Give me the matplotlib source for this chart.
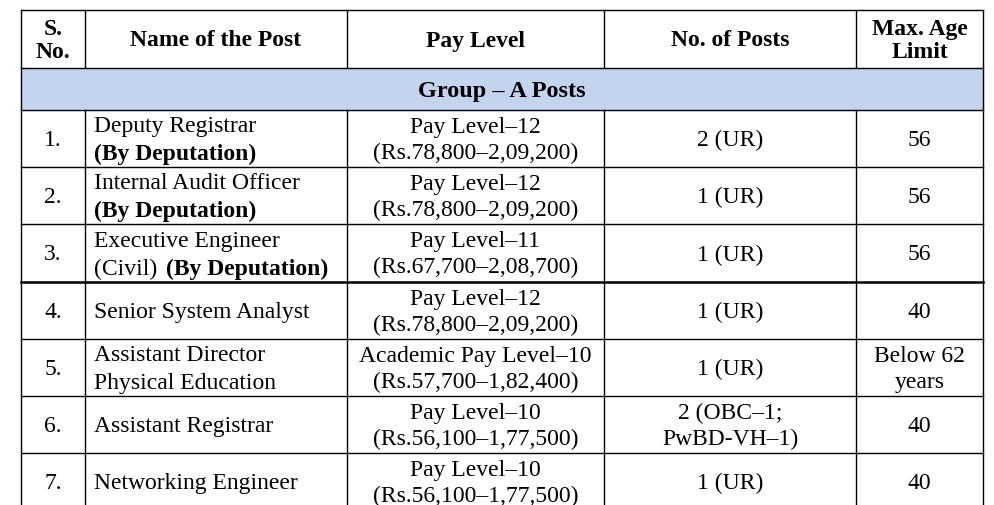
import matplotlib
matplotlib.use("Agg")
from matplotlib import pyplot as plt

plt.rcParams['font.family'] = ['Liberation Serif', 'DejaVu Serif']

headers = ["S.\nNo.", "Name of the Post", "Pay Level", "No. of Posts", "Max. Age\nLimit"]
group_title = "Group \u2013 A Posts"
serials = ["1.", "2.", "3.", "4.", "5.", "6.", "7."]
names = [
    [("Deputy Registrar", False), ("(By Deputation)", True)],
    [("Internal Audit Officer", False), ("(By Deputation)", True)],
    [("Executive Engineer", False), ("(Civil)", False, "(By Deputation)")],
    [("Senior System Analyst", False)],
    [("Assistant Director", False), ("Physical Education", False)],
    [("Assistant Registrar", False)],
    [("Networking Engineer", False)],
]
pay_levels = [
    "Pay Level\u201312\n(Rs.78,800\u20132,09,200)",
    "Pay Level\u201312\n(Rs.78,800\u20132,09,200)",
    "Pay Level\u201311\n(Rs.67,700\u20132,08,700)",
    "Pay Level\u201312\n(Rs.78,800\u20132,09,200)",
    "Academic Pay Level\u201310\n(Rs.57,700\u20131,82,400)",
    "Pay Level\u201310\n(Rs.56,100\u20131,77,500)",
    "Pay Level\u201310\n(Rs.56,100\u20131,77,500)",
]
posts = ["2 (UR)", "1 (UR)", "1 (UR)", "1 (UR)", "1 (UR)", "2 (OBC\u20131;\nPwBD-VH\u20131)", "1 (UR)"]
ages = ["56", "56", "56", "40", "Below 62\nyears", "40", "40"]

W, H = 994, 505
xs = [21, 85, 347, 604, 856, 983]
y_head = (10, 68)
y_group = (68, 110)
row_h = 57.2
fs = 17

fig = plt.figure(figsize=(W / 100, H / 100), dpi=100)
ax = fig.add_axes([0, 0, 1, 1])
ax.set_xlim(0, W)
ax.set_ylim(H, 0)
ax.axis('off')

ax.fill_between([xs[0], xs[-1]], y_group[0], y_group[1], color='#c5d4ee', zorder=0)

# header
for i, h in enumerate(headers):
    cx = (xs[i] + xs[i + 1]) / 2
    ax.text(cx, sum(y_head) / 2 + 2, h, ha='center', va='center', fontsize=fs,
            fontweight='bold', linespacing=1.15)
ax.text((xs[0] + xs[-1]) / 2, sum(y_group) / 2 + 2, group_title, ha='center', va='center',
        fontsize=fs + 0.5, fontweight='bold')

ys = [y_group[1] + k * row_h for k in range(len(serials) + 1)]
for r in range(len(serials)):
    top, bot = ys[r], ys[r + 1]
    cy = (top + bot) / 2 + 2
    ax.text((xs[0] + xs[1]) / 2, cy, serials[r], ha='center', va='center', fontsize=fs)
    lines = names[r]
    if len(lines) == 1:
        ax.text(94, cy, lines[0][0], ha='left', va='center', fontsize=fs)
    else:
        for j, ln in enumerate(lines):
            ly = cy - 14 + 28 * j
            ax.text(94, ly, ln[0], ha='left', va='center', fontsize=fs,
                    fontweight='bold' if ln[1] else 'normal')
            if len(ln) > 2:
                ax.text(166, ly, ln[2], ha='left', va='center', fontsize=fs, fontweight='bold')
    for col, val in ((2, pay_levels[r]), (3, posts[r]), (4, ages[r])):
        ax.text((xs[col] + xs[col + 1]) / 2, cy, val, ha='center', va='center',
                fontsize=fs, linespacing=1.3)

# grid lines
hl = [y_head[0], y_head[1], y_group[1]] + ys[1:]
for y in hl:
    lw = 1.8 if y == ys[3] else 1.0
    ax.plot([xs[0], xs[-1]], [y, y], color='black', lw=lw)
for i, x in enumerate(xs):
    if i == 0 or i == len(xs) - 1:
        ax.plot([x, x], [y_head[0], H], color='black', lw=1.0)
    else:
        ax.plot([x, x], [y_head[0], y_head[1]], color='black', lw=1.0)
        ax.plot([x, x], [y_group[1], H], color='black', lw=1.0)

fig.savefig("out.png", dpi=100)
